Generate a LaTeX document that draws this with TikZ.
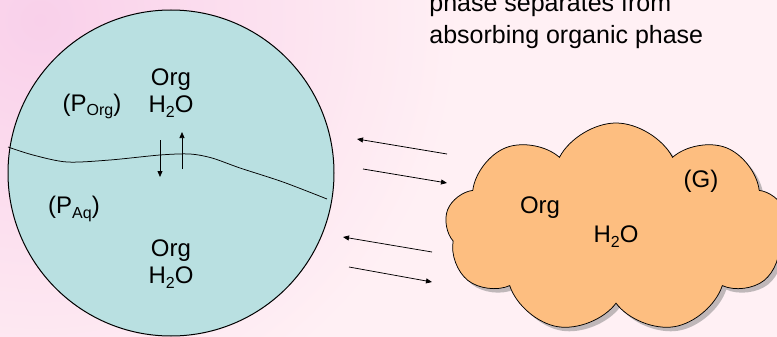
\documentclass[tikz,border=0pt]{standalone}
\usepackage{fontspec}
\setmainfont{Liberation Sans}
\usetikzlibrary{arrows.meta,shapes.symbols,shadows,positioning,calc}
\definecolor{bgpink}{RGB}{249,208,234}
\definecolor{bglight}{RGB}{255,240,244}
\definecolor{dropblue}{RGB}{185,224,225}
\definecolor{gasorange}{RGB}{253,190,128}
\newcommand{\lowsub}[1]{\raisebox{-5pt}{\fontsize{16}{16}\selectfont #1}}
\tikzset{every picture/.style={line width=0.75pt}}
\tikzset{
  lbl/.style={inner sep=0pt, align=center, font=\fontsize{24}{27}\selectfont},
  flux/.style={-{Triangle[length=6pt,width=5pt]}},
}

\begin{document}
\begin{tikzpicture}[x=1pt,y=-1pt]
    % background
    \path[use as bounding box, clip] (0,0) rectangle (777,337);
    \fill[bglight] (0,0) rectangle (777,337);
    \shade[inner color=bgpink, outer color=bglight] (40,20) circle (420pt);

    % particle with two phases
    \node[circle, draw, line width=1pt, fill=dropblue, minimum size=326pt, inner sep=0pt] (drop) at (171,173) {};
    \draw plot[smooth] coordinates {(8,147) (33,155) (67,162) (110,160) (160,155) (190,154) (212,158) (240,168) (283,182) (327,199)};
    \draw[flux] (160,140) -- (160,177);
    \draw[flux] (182,169) -- (182,132);

    \node[lbl] (orgtop) at (171,93) {Org\\H\lowsub{2}O};
    \node[lbl, anchor=base] (porg) at (92,111) {(P\lowsub{Org})};
    \node[lbl, anchor=base] (paq) at (74,213) {(P\lowsub{Aq})};
    \node[lbl] (orgbot) at (171,264) {Org\\H\lowsub{2}O};

    % gas phase
    \node[cloud, cloud puffs=9, cloud puff arc=125, draw, fill=gasorange,
          minimum width=342pt, minimum height=210pt,
          drop shadow={shadow xshift=4pt, shadow yshift=-4pt, fill=gray}] (gas) at (616,228) {};
    \node[lbl, anchor=base] (gasorg) at (540,213) {Org};
    \node[lbl, anchor=base] (gash2o) at (616,242) {H\lowsub{2}O};
    \node[lbl, anchor=base] (gasg) at (701,187) {(G)};

    % exchange between the phases
    \coordinate (a1) at (447,154); \coordinate (b1) at (357,139);
    \coordinate (a2) at (363,169); \coordinate (b2) at (447,183);
    \coordinate (a3) at (432,252); \coordinate (b3) at (343,237);
    \coordinate (a4) at (349,267); \coordinate (b4) at (432,282);
    \foreach \i in {1,...,4}
        \draw[flux] (a\i) -- (b\i);

    % caption
    \node[inner sep=0pt, anchor=west, align=left, font=\fontsize{25}{32}\selectfont] (caption) at (429,21)
        {phase separates from\\absorbing organic phase};
\end{tikzpicture}
\end{document}
